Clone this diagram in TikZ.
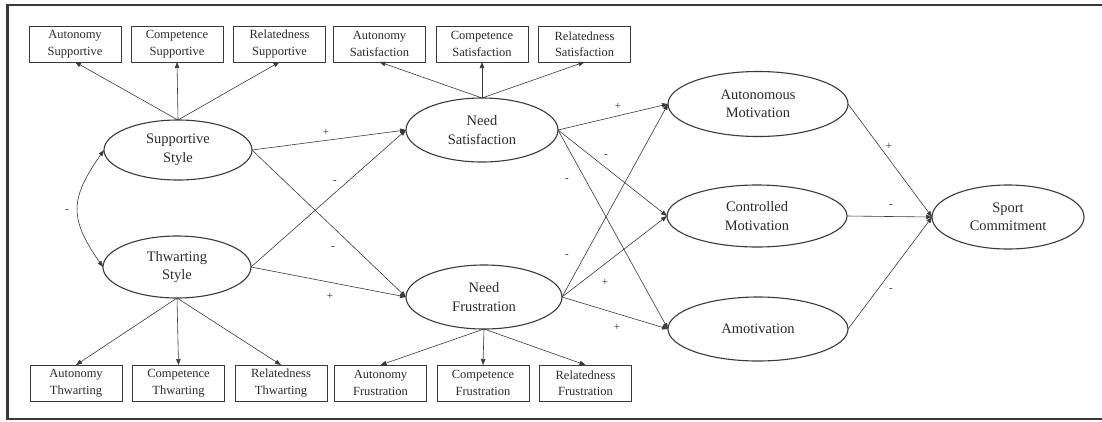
\documentclass[tikz,border=0pt]{standalone}
\usepackage{fontspec}
\setmainfont{Liberation Serif}
\usetikzlibrary{shapes.geometric,arrows.meta}
\definecolor{ink}{HTML}{3A3A3A}
\definecolor{txt}{HTML}{2A2A2A}
\tikzset{
  box/.style={draw=ink, line width=0.9pt, minimum width=92pt, minimum height=36pt, inner sep=0pt, outer sep=0pt,
    align=center, text=txt, font=\rmfamily\fontsize{12.5}{16.5}\selectfont},
  latent/.style={ellipse, draw=ink, line width=1.1pt, inner sep=0pt, outer sep=0pt,
    align=center, text=txt, font=\rmfamily\fontsize{14.5}{18.5}\selectfont},
  conn/.style={draw=ink, line width=0.6pt, -{Triangle[length=6pt,width=4.5pt]}},
  sgn/.style={text=txt, font=\rmfamily\fontsize{11}{11}\selectfont, inner sep=0pt}
}
\begin{document}
\begin{tikzpicture}[x=1pt,y=-1pt]
\useasboundingbox (0,0) rectangle (1102,421);
% frame
\draw[ink, line width=1.3pt] (1102,5) -- (7.5,5);
\draw[ink, line width=2.2pt] (7.5,4.4) -- (7.5,419.6);
\draw[ink, line width=1.3pt] (7.5,419) -- (1102,419);

% latent variables
\node[latent, minimum width=148pt, minimum height=60pt] (ss) at (178,150) {Supportive\\Style};
\node[latent, minimum width=148pt, minimum height=62pt] (ts) at (177,267) {Thwarting\\Style};
\node[latent, minimum width=152pt, minimum height=64pt] (ns) at (482,130) {Need\\Satisfaction};
\node[latent, minimum width=156pt, minimum height=64pt] (nf) at (484,297) {Need\\Frustration};
\node[latent, minimum width=180pt, minimum height=65pt] (am) at (758,104) {Autonomous\\Motivation};
\node[latent, minimum width=180pt, minimum height=62pt] (cm) at (757,216) {Controlled\\Motivation};
\node[latent, minimum width=180pt, minimum height=64pt] (amo) at (758,329) {Amotivation};
\node[latent, minimum width=152pt, minimum height=64pt] (sc) at (1008,217) {Sport\\Commitment};

% indicator boxes (top)
\node[box] (as) at (75,44) {Autonomy\\Supportive};
\node[box] (cs) at (177,44) {Competence\\Supportive};
\node[box] (rs) at (279.5,44) {Relatedness\\Supportive};
\node[box] (asat) at (379.5,44) {Autonomy\\Satisfaction};
\node[box] (csat) at (482,44) {Competence\\Satisfaction};
\node[box] (rsat) at (584.5,44) {Relatedness\\Satisfaction};
% indicator boxes (bottom)
\node[box] (at) at (76,383) {Autonomy\\Thwarting};
\node[box] (ct) at (178.5,383) {Competence\\Thwarting};
\node[box] (rt) at (281,383) {Relatedness\\Thwarting};
\node[box] (af) at (380.5,383) {Autonomy\\Frustration};
\node[box] (cf) at (483,383) {Competence\\Frustration};
\node[box] (rf) at (585.5,383) {Relatedness\\Frustration};

% measurement arrows
\foreach \b in {as,cs,rs} \draw[conn] (ss.north) -- (\b.south);
\foreach \b in {asat,csat,rsat} \draw[conn] (ns.north) -- (\b.south);
\foreach \b in {at,ct,rt} \draw[conn] (ts.south) -- (\b.north);
\foreach \b in {af,cf,rf} \draw[conn] (nf.south) -- (\b.north);

% covariance
\draw[draw=ink, line width=0.6pt, {Triangle[length=6pt,width=4.5pt]}-{Triangle[length=6pt,width=4.5pt]}]
  (ss.west) to[out=235, in=125, looseness=1.3] (ts.west);

% structural paths
\draw[conn] (ss.east) -- (ns.west);
\draw[conn] (ss.east) -- (nf.west);
\draw[conn] (ts.east) -- (ns.west);
\draw[conn] (ts.east) -- (nf.west);
\foreach \m in {am,cm,amo} {
  \draw[conn] (ns.east) -- (\m.west);
  \draw[conn] (nf.east) -- (\m.west);
  \draw[conn] (\m.east) -- (sc.west);
}

% signs
\node[sgn] (l1) at (67,211) {-};
\node[sgn] (l2) at (326,132) {+};
\node[sgn] (l3) at (335,182) {-};
\node[sgn] (l4) at (333,248) {-};
\node[sgn] (l5) at (330,296) {+};
\node[sgn] (l6) at (618,106) {+};
\node[sgn] (l7) at (606,156) {-};
\node[sgn] (l8) at (567,180) {-};
\node[sgn] (l9) at (567,256) {-};
\node[sgn] (l10) at (605,282) {+};
\node[sgn] (l11) at (617,327) {+};
\node[sgn] (l12) at (889,146) {+};
\node[sgn] (l13) at (891,206) {-};
\node[sgn] (l14) at (891,290) {-};
\end{tikzpicture}
\end{document}
